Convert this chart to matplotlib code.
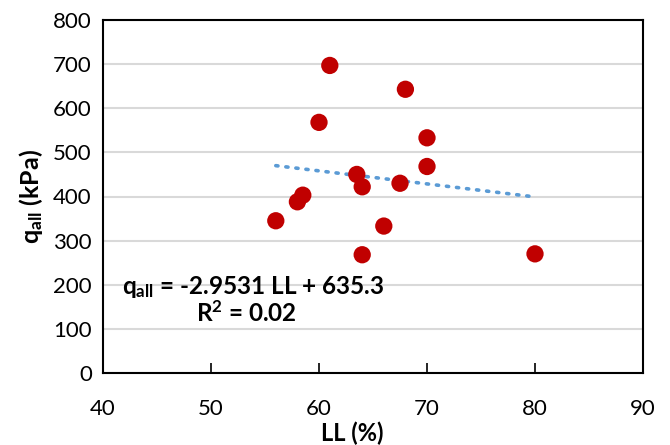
import matplotlib
matplotlib.use("Agg")
import matplotlib.pyplot as plt
import numpy as np

plt.rcParams['font.family'] = ['Lato', 'DejaVu Sans']
plt.rcParams['mathtext.fontset'] = 'custom'
plt.rcParams['mathtext.rm'] = 'Lato'
plt.rcParams['mathtext.bf'] = 'Lato:bold'
plt.rcParams['mathtext.it'] = 'Lato:italic'

ll = [61, 68, 60, 70, 70, 63.5, 64, 67.5, 58.5, 58, 56, 66, 64, 80]
qall = [697, 643, 568, 533, 468, 450, 422, 430, 403, 388, 345, 333, 268, 270]
slope = -2.9531
intercept = 635.3
x_ticks = [40, 50, 60, 70, 80, 90]
y_ticks = [0, 100, 200, 300, 400, 500, 600, 700, 800]

fig = plt.figure(figsize=(6.7, 4.45), dpi=100)
ax = fig.add_axes([103/670, 1-373/445, (643-103)/670, (373-20)/445])

ax.set_xlim(40, 90)
ax.set_ylim(0, 800)
ax.set_yticks(y_ticks)
ax.set_xticks(x_ticks)
ax.grid(axis='y', color='#d9d9d9', lw=1.5, zorder=0)
ax.set_axisbelow(True)

xs = np.array([min(ll), max(ll)])
ax.plot(xs, slope*xs + intercept, linestyle=(0, (0.6, 2.2)), color='#5b9bd5',
        lw=2.6, dash_capstyle='round', zorder=2)
ax.scatter(ll, qall, s=155, color='#c00000', edgecolor='none', zorder=3)

for s in ax.spines.values():
    s.set_color('black')
    s.set_linewidth(1.5)

ax.tick_params(axis='x', direction='in', length=7, width=1.2, labelsize=16, pad=19, color='black')
ax.tick_params(axis='y', length=0, labelsize=16, pad=8)

ax.set_xlabel('LL (%)', fontsize=17, fontweight='bold')
ax.xaxis.set_label_coords(0.461, -0.137)
ax.set_ylabel(r'$\mathbf{q_{all}}$ (kPa)', fontsize=18, fontweight='bold', labelpad=6)

ax.text(0.035, 0.245, r'$\mathbf{q_{all}}$ = -2.9531 LL + 635.3', transform=ax.transAxes,
        fontsize=17.5, fontweight='bold', ha='left', va='center')
ax.text(0.265, 0.17, r'R$^\mathbf{2}$ = 0.02', transform=ax.transAxes,
        fontsize=17.5, fontweight='bold', ha='center', va='center')

fig.savefig('out.png', dpi=100)
